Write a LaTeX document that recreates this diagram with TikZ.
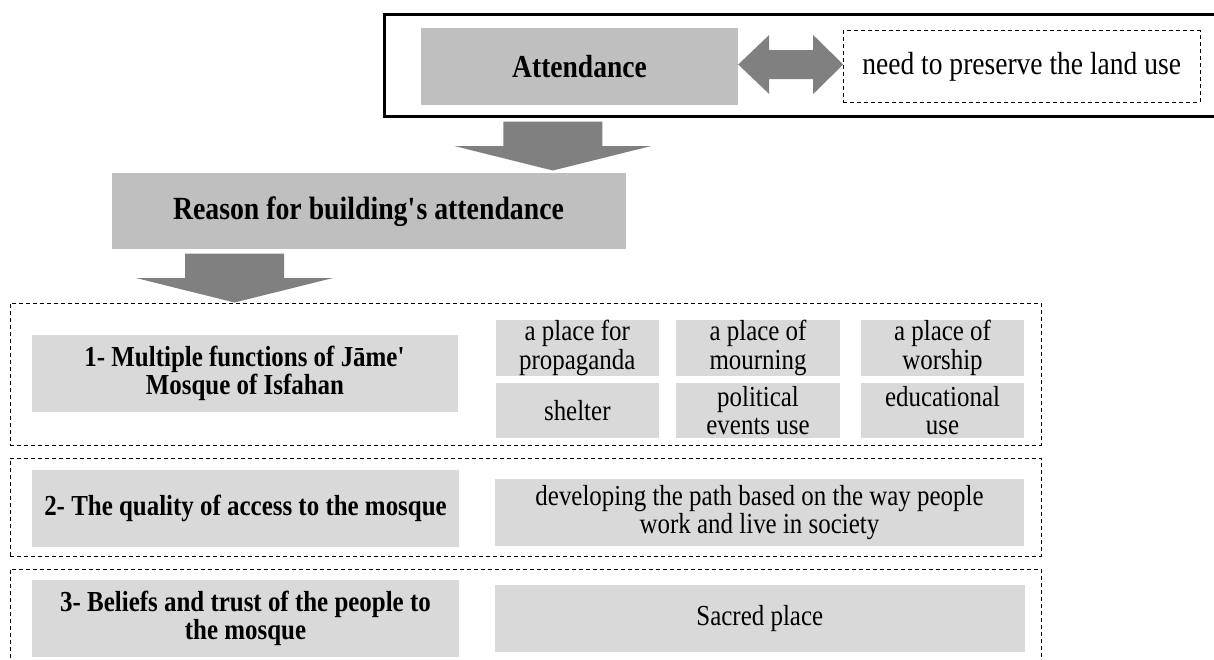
\documentclass[tikz,border=0pt]{standalone}
\usepackage{fontspec}
\setmainfont{Liberation Serif}[FakeStretch=0.86]
\usetikzlibrary{calc}
\definecolor{darkbox}{HTML}{BFBFBF}
\definecolor{lightbox}{HTML}{D9D9D9}
\definecolor{arrowgray}{HTML}{808080}
\newcommand\fsItem{\fontsize{29}{28.5}\selectfont}
\newcommand\fsTop{\fontsize{32}{31}\selectfont}
\newcommand\fsReason{\fontsize{32.3}{31}\selectfont}
\begin{document}
\begin{tikzpicture}[x=1pt,y=-1pt,
  darkcell/.style={fill=darkbox, inner sep=0pt, align=center, font=\fsTop\bfseries},
  headcell/.style={fill=lightbox, inner sep=0pt, align=center, font=\fsItem\bfseries},
  itemcell/.style={fill=lightbox, inner sep=0pt, align=center, font=\fsItem},
  dashframe/.style={draw=black, line width=1pt, dash pattern=on 4pt off 3pt, inner sep=0pt},
  wh/.style 2 args={minimum width=#1pt, minimum height=#2pt},
  dnarrow/.pic={\fill[arrowgray] (0,0) -- (-98.5,-24.5) -- (-49.5,-24.5) -- (-49.5,-49) -- (49.5,-49) -- (49.5,-24.5) -- (98.5,-24.5) -- cycle;}
]
\useasboundingbox (0,0) rectangle (1214,659);

% top frame (its right side runs past the picture's edge)
\node[draw=black, line width=3pt, inner sep=0pt, wh={846}{101.7}] (outer) at (807,65.8) {};
\node[darkcell, wh={317}{76.7}] (att) at (579.5,66.7) {Attendance};
\node[dashframe, wh={356.7}{71.7}, font=\fsTop, align=center] (need) at (1021.7,66.8) {need to preserve the land use};

% double arrow between Attendance and the dashed box
\fill[arrowgray] ($(att.east)+(0,-2.2)$) -- ++(31,-29.5) -- ++(0,15) -- ++(44,0) -- ++(0,-15)
  -- ++(30,29.5) -- ++(-30,29.5) -- ++(0,-15) -- ++(-44,0) -- ++(0,15) -- cycle;

% reason box
\node[darkcell, wh={514}{76}, font=\fsReason\bfseries] (reason) at (368.5,211.3) {Reason for building\textquotesingle s attendance};
\pic at ($(reason.north west)+(441.5,-2.6)$) {dnarrow};

% section 1
\node[dashframe, wh={1031}{142}] (dash1) at (525.5,374) {};
\pic at ($(dash1.north west)+(225,0)$) {dnarrow};
\node[headcell, wh={426}{76.7}] (f1) at (245,373.3) {1- Multiple functions of Jāme\textquotesingle\\Mosque of Isfahan};
\node[itemcell, wh={163.4}{56}] (a1) at (577.3,348) {a place for\\propaganda};
\node[itemcell, wh={164}{56}] (a2) at (758,348) {a place of\\mourning};
\node[itemcell, wh={163}{56}] (a3) at (942.5,348) {a place of\\worship};
\node[itemcell, wh={163.4}{55}] (b1) at (577.3,410.8) {shelter};
\node[itemcell, wh={164}{55}] (b2) at (758,410.8) {political\\events use};
\node[itemcell, wh={163}{55}] (b3) at (942.5,410.8) {educational\\use};

% section 2
\node[dashframe, wh={1031}{98}] (dash2) at (525.5,507) {};
\node[headcell, wh={427}{76.7}] (f2) at (245.5,508.3) {2- The quality of access to the mosque};
\node[itemcell, wh={529}{67}] (r2) at (759.5,512.5) {developing the path based on the way people\\work and live in society};

% section 3 (its bottom runs past the picture's edge)
\node[dashframe, wh={1031}{100}] (dash3) at (525.5,619) {};
\node[headcell, wh={427}{76.7}] (f3) at (245.5,618.3) {3- Beliefs and trust of the people to\\the mosque};
\node[itemcell, wh={529.6}{66.7}] (r3) at (759.8,618.3) {Sacred place};
\end{tikzpicture}
\end{document}
